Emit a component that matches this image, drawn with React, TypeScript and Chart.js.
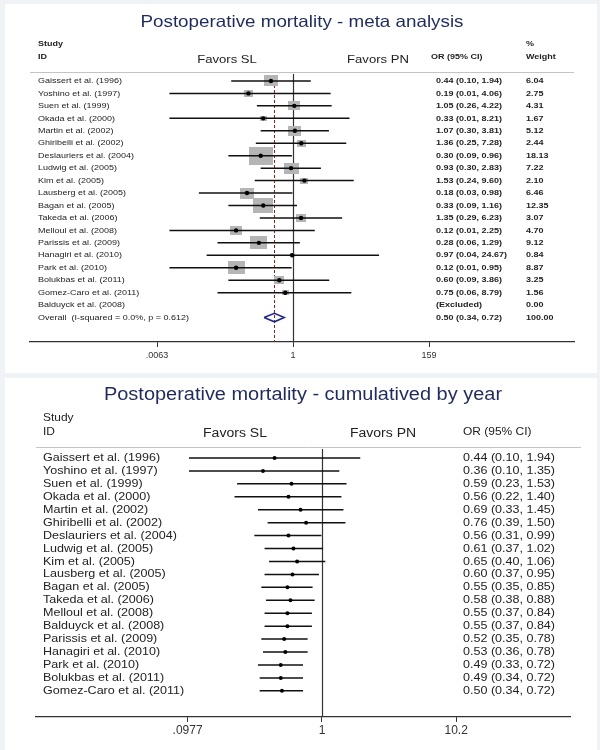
import React, { useEffect, useRef } from "react";
import { Chart, registerables } from "chart.js";

Chart.register(...registerables);

const FONT = '"Liberation Sans", Arial, Helvetica, sans-serif';

// ---------- Panel 1: meta analysis ----------
const META_TITLE = "Postoperative mortality - meta analysis";
const META_STUDIES = [
  "Gaissert et al. (1996)",
  "Yoshino et al. (1997)",
  "Suen et al. (1999)",
  "Okada et al. (2000)",
  "Martin et al. (2002)",
  "Ghiribelli et al. (2002)",
  "Deslauriers et al. (2004)",
  "Ludwig et al. (2005)",
  "Kim et al. (2005)",
  "Lausberg et al. (2005)",
  "Bagan et al. (2005)",
  "Takeda et al. (2006)",
  "Melloul et al. (2008)",
  "Parissis et al. (2009)",
  "Hanagiri et al. (2010)",
  "Park et al. (2010)",
  "Bolukbas et al. (2011)",
  "Gomez-Caro et al. (2011)",
  "Balduyck et al. (2008)",
];
const META_OR = [0.44, 0.19, 1.05, 0.33, 1.07, 1.36, 0.3, 0.93, 1.53, 0.18, 0.33, 1.35, 0.12, 0.28, 0.97, 0.12, 0.6, 0.75, null];
const META_LO = [0.1, 0.01, 0.26, 0.01, 0.3, 0.25, 0.09, 0.3, 0.24, 0.03, 0.09, 0.29, 0.01, 0.06, 0.04, 0.01, 0.09, 0.06, null];
const META_HI = [1.94, 4.06, 4.22, 8.21, 3.81, 7.28, 0.96, 2.83, 9.6, 0.98, 1.16, 6.23, 2.25, 1.29, 24.67, 0.95, 3.86, 8.79, null];
const META_WEIGHT = [6.04, 2.75, 4.31, 1.67, 5.12, 2.44, 18.13, 7.22, 2.1, 6.46, 12.35, 3.07, 4.7, 9.12, 0.84, 8.87, 3.25, 1.56, 0.0];
const OVERALL_LABEL = "Overall  (I-squared = 0.0%, p = 0.612)";
const OVERALL_OR = 0.5;
const OVERALL_LO = 0.34;
const OVERALL_HI = 0.72;
const OVERALL_WEIGHT = 100.0;
const META_TICKS = [0.0063, 1, 159];
const META_TICK_LABELS = [".0063", "1", "159"];

// ---------- Panel 2: cumulative by year ----------
const CUM_TITLE = "Postoperative mortality - cumulatived by year";
const CUM_STUDIES = [
  "Gaissert et al. (1996)",
  "Yoshino et al. (1997)",
  "Suen et al. (1999)",
  "Okada et al. (2000)",
  "Martin et al. (2002)",
  "Ghiribelli et al. (2002)",
  "Deslauriers et al. (2004)",
  "Ludwig et al. (2005)",
  "Kim et al. (2005)",
  "Lausberg et al. (2005)",
  "Bagan et al. (2005)",
  "Takeda et al. (2006)",
  "Melloul et al. (2008)",
  "Balduyck et al. (2008)",
  "Parissis et al. (2009)",
  "Hanagiri et al. (2010)",
  "Park et al. (2010)",
  "Bolukbas et al. (2011)",
  "Gomez-Caro et al. (2011)",
];
const CUM_OR = [0.44, 0.36, 0.59, 0.56, 0.69, 0.76, 0.56, 0.61, 0.65, 0.6, 0.55, 0.58, 0.55, 0.55, 0.52, 0.53, 0.49, 0.49, 0.5];
const CUM_LO = [0.1, 0.1, 0.23, 0.22, 0.33, 0.39, 0.31, 0.37, 0.4, 0.37, 0.35, 0.38, 0.37, 0.37, 0.35, 0.36, 0.33, 0.34, 0.34];
const CUM_HI = [1.94, 1.35, 1.53, 1.4, 1.45, 1.5, 0.99, 1.02, 1.06, 0.95, 0.85, 0.88, 0.84, 0.84, 0.78, 0.78, 0.72, 0.72, 0.72];
const CUM_TICKS = [0.0977, 1, 10.2];
const CUM_TICK_LABELS = [".0977", "1", "10.2"];

// ---------- styling ----------
const TITLE_COLOR = "#1e2b5c";
const TEXT_COLOR = "#222222";
const LINE_COLOR = "#111111";
const BOX_COLOR = "#b5b5b5";
const DIAMOND_COLOR = "#1f2a85";
const REF_RED = "#9b1b1b";
const BOX_SCALE = 5.7;
const BOX_ASPECT = 0.76;
const DIAMOND_HALF = 0.34;
const TEXT_STRETCH = 1.14;

const fmt = (or: number, lo: number, hi: number) =>
  `${or.toFixed(2)} (${lo.toFixed(2)}, ${hi.toFixed(2)})`;

function boxStyle(weight: number): HTMLCanvasElement {
  const w = Math.max(3, Math.round(BOX_SCALE * Math.sqrt(weight)));
  const h = Math.max(3, Math.round(w * BOX_ASPECT));
  const c = document.createElement("canvas");
  c.width = w;
  c.height = h;
  const g = c.getContext("2d")!;
  g.fillStyle = BOX_COLOR;
  g.fillRect(0, 0, w, h);
  return c;
}

function drawText(ctx: CanvasRenderingContext2D, text: string, x: number, y: number, font: string, align: CanvasTextAlign, color: string) {
  ctx.save();
  ctx.font = font;
  ctx.fillStyle = color;
  ctx.textAlign = align;
  ctx.textBaseline = "middle";
  ctx.translate(x, y);
  ctx.scale(TEXT_STRETCH, 1);
  ctx.fillText(text, 0, 0);
  ctx.restore();
}

const forestPlugin = {
  id: "forest",
  beforeDatasetsDraw(chart: any, _a: any, opts: any) {
    const { ctx, chartArea } = chart;
    const xs = chart.scales.x;
    ctx.save();
    const xn = Math.round(xs.getPixelForValue(1)) + 0.5;
    ctx.strokeStyle = "#333";
    ctx.lineWidth = 1.2;
    ctx.beginPath();
    ctx.moveTo(xn, chartArea.top + 2);
    ctx.lineTo(xn, chartArea.bottom);
    ctx.stroke();
    if (opts.dashAt != null) {
      const xd = Math.round(xs.getPixelForValue(opts.dashAt)) + 0.5;
      ctx.strokeStyle = REF_RED;
      ctx.lineWidth = 1;
      ctx.setLineDash([3, 2]);
      ctx.beginPath();
      ctx.moveTo(xd, chartArea.top + 3);
      ctx.lineTo(xd, chartArea.bottom);
      ctx.stroke();
      ctx.setLineDash([]);
    }
    ctx.restore();
  },
  afterDraw(chart: any, _a: any, opts: any) {
    const { ctx, chartArea } = chart;
    const ys = chart.scales.y;
    ctx.save();
    // title
    drawText(ctx, opts.title, (chartArea.left + chartArea.right) / 2, opts.titleY, `${opts.titleSize}px ${FONT}`, "center", TITLE_COLOR);
    // header line
    ctx.strokeStyle = "#c4c4c4";
    ctx.lineWidth = 1;
    ctx.beginPath();
    ctx.moveTo(chartArea.left, chartArea.top + 0.5);
    ctx.lineTo(opts.headerRight, chartArea.top + 0.5);
    ctx.stroke();
    for (const h of opts.headers) {
      drawText(ctx, h.text, h.x, h.y, `${h.bold ? "bold " : ""}${h.size}px ${FONT}`, h.align || "left", TEXT_COLOR);
    }
    const lf = `${opts.labelBold ? "bold " : ""}${opts.labelSize}px ${FONT}`;
    const vf = `${opts.valueBold ? "bold " : ""}${opts.valueSize}px ${FONT}`;
    for (const r of opts.rows) {
      const y = ys.getPixelForValue(r.row);
      drawText(ctx, r.label, opts.labelX, y, lf, "left", TEXT_COLOR);
      if (r.value) drawText(ctx, r.value, opts.valueX, y, vf, "left", TEXT_COLOR);
      if (r.weight) drawText(ctx, r.weight, opts.weightX, y, vf, "left", TEXT_COLOR);
    }
    ctx.restore();
  },
};

function xAxis(min: number, max: number, ticks: number[], labels: string[], size: number, pad: number) {
  return {
    type: "logarithmic",
    min,
    max,
    afterBuildTicks: (scale: any) => {
      scale.ticks = ticks.map((v) => ({ value: v }));
    },
    ticks: {
      autoSkip: false,
      maxRotation: 0,
      padding: pad,
      color: "#333",
      font: { family: FONT, size },
      callback: (_v: any, i: number) => labels[i],
    },
    grid: { display: true, drawOnChartArea: false, drawTicks: true, tickLength: 5, color: "#333", lineWidth: 1 },
    border: { display: true, color: "#333", width: 1.2 },
  };
}

function buildMeta(): any {
  const kept = META_OR.map((v, i) => (v == null ? -1 : i)).filter((i) => i >= 0);
  const overallRow = META_STUDIES.length;
  const datasets: any[] = [];
  datasets.push({
    data: kept.map((i) => ({ x: META_OR[i], y: i })),
    pointStyle: kept.map((i) => boxStyle(META_WEIGHT[i])),
    pointRadius: 6,
    order: 3,
  });
  kept.forEach((i) =>
    datasets.push({
      data: [
        { x: META_LO[i], y: i },
        { x: META_HI[i], y: i },
      ],
      showLine: true,
      borderColor: LINE_COLOR,
      borderWidth: 1.5,
      pointRadius: 0,
      order: 2,
    })
  );
  datasets.push({
    data: [
      { x: OVERALL_LO, y: overallRow },
      { x: OVERALL_OR, y: overallRow - DIAMOND_HALF },
      { x: OVERALL_HI, y: overallRow },
      { x: OVERALL_OR, y: overallRow + DIAMOND_HALF },
      { x: OVERALL_LO, y: overallRow },
    ],
    showLine: true,
    borderColor: DIAMOND_COLOR,
    borderWidth: 1.6,
    pointRadius: 0,
    order: 2,
  });
  datasets.push({
    data: kept.map((i) => ({ x: META_OR[i], y: i })),
    pointStyle: "circle",
    pointRadius: 2.2,
    backgroundColor: "#000",
    borderColor: "#000",
    borderWidth: 0,
    order: 1,
  });

  const rows = META_STUDIES.map((s, i) => ({
    row: i,
    label: s,
    value: META_OR[i] == null ? "(Excluded)" : fmt(META_OR[i]!, META_LO[i]!, META_HI[i]!),
    weight: META_WEIGHT[i].toFixed(2),
  }));
  rows.push({
    row: overallRow,
    label: OVERALL_LABEL,
    value: fmt(OVERALL_OR, OVERALL_LO, OVERALL_HI),
    weight: OVERALL_WEIGHT.toFixed(2),
  });

  return {
    type: "scatter",
    data: { datasets },
    plugins: [forestPlugin],
    options: {
      animation: false,
      responsive: false,
      devicePixelRatio: 1,
      layout: { padding: { left: 25, right: 23, top: 68, bottom: 9.2 } },
      scales: {
        x: xAxis(5.55e-5, 3.52e4, META_TICKS, META_TICK_LABELS, 9, 3),
        y: { type: "linear", reverse: true, min: -0.72, max: 20.96, display: false },
      },
      plugins: {
        legend: { display: false },
        tooltip: { enabled: false },
        title: { display: false },
        forest: {
          title: META_TITLE,
          titleY: 18,
          titleSize: 16.5,
          dashAt: OVERALL_OR,
          headerRight: 569,
          labelX: 33,
          labelSize: 7.9,
          valueX: 431,
          valueSize: 7.9,
          valueBold: true,
          weightX: 521,
          rows,
          headers: [
            { text: "Study", x: 33, y: 40, size: 7.9, bold: true },
            { text: "ID", x: 33, y: 53, size: 7.9, bold: true },
            { text: "Favors SL", x: 222, y: 56, size: 11.5, align: "center" },
            { text: "Favors PN", x: 373, y: 56, size: 11.5, align: "center" },
            { text: "OR (95% CI)", x: 426, y: 53, size: 7.9, bold: true },
            { text: "%", x: 521, y: 40, size: 7.9, bold: true },
            { text: "Weight", x: 521, y: 53, size: 7.9, bold: true },
          ],
        },
      },
    },
  };
}

function buildCum(): any {
  const datasets: any[] = [];
  CUM_OR.forEach((_, i) =>
    datasets.push({
      data: [
        { x: CUM_LO[i], y: i },
        { x: CUM_HI[i], y: i },
      ],
      showLine: true,
      borderColor: LINE_COLOR,
      borderWidth: 1.5,
      pointRadius: 0,
      order: 2,
    })
  );
  datasets.push({
    data: CUM_OR.map((v, i) => ({ x: v, y: i })),
    pointStyle: "circle",
    pointRadius: 2,
    backgroundColor: "#000",
    borderColor: "#000",
    borderWidth: 0,
    order: 1,
  });
  const rows = CUM_STUDIES.map((s, i) => ({
    row: i,
    label: s,
    value: fmt(CUM_OR[i], CUM_LO[i], CUM_HI[i]),
    weight: "",
  }));
  return {
    type: "scatter",
    data: { datasets },
    plugins: [forestPlugin],
    options: {
      animation: false,
      responsive: false,
      devicePixelRatio: 1,
      layout: { padding: { left: 31, right: 27, top: 69, bottom: 11.6 } },
      scales: {
        x: xAxis(0.00708, 73.2, CUM_TICKS, CUM_TICK_LABELS, 12, 1),
        y: { type: "linear", reverse: true, min: -0.85, max: 20.02, display: false },
      },
      plugins: {
        legend: { display: false },
        tooltip: { enabled: false },
        title: { display: false },
        forest: {
          title: CUM_TITLE,
          titleY: 17,
          titleSize: 17.5,
          headerRight: 576,
          labelX: 38,
          labelSize: 11,
          valueX: 458,
          valueSize: 11,
          weightX: 0,
          rows,
          headers: [
            { text: "Study", x: 38, y: 40, size: 10.5 },
            { text: "ID", x: 38, y: 54, size: 10.5 },
            { text: "Favors SL", x: 230, y: 56, size: 12.3, align: "center" },
            { text: "Favors PN", x: 378, y: 56, size: 12.3, align: "center" },
            { text: "OR (95% CI)", x: 458, y: 54, size: 10.5 },
          ],
        },
      },
    },
  };
}

export default function App() {
  const ref1 = useRef<HTMLCanvasElement>(null);
  const ref2 = useRef<HTMLCanvasElement>(null);
  useEffect(() => {
    const c1 = new Chart(ref1.current!, buildMeta());
    const c2 = new Chart(ref2.current!, buildCum());
    return () => {
      c1.destroy();
      c2.destroy();
    };
  }, []);
  return (
    <div
      style={{
        position: "fixed",
        left: 0,
        top: 0,
        width: 600,
        height: 750,
        background: "#eff3f5",
        overflow: "hidden",
      }}
    >
      <canvas
        ref={ref1}
        width={592}
        height={369}
        style={{ position: "absolute", left: 5, top: 4, width: 592, height: 369, background: "#ffffff" }}
      />
      <canvas
        ref={ref2}
        width={592}
        height={372}
        style={{ position: "absolute", left: 5, top: 378, width: 592, height: 372, background: "#ffffff" }}
      />
    </div>
  );
}
